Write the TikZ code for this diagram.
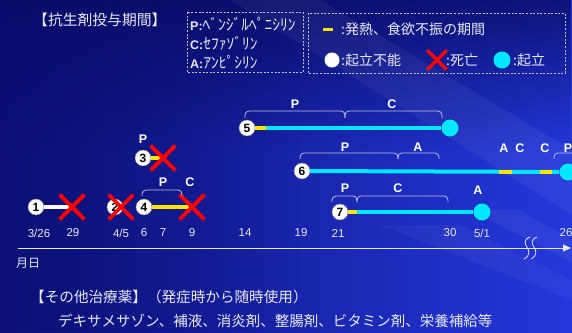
\documentclass[tikz,border=0pt]{standalone}
\usepackage{fontspec}
\newfontfamily\jpf{Noto Sans CJK JP}
\newfontfamily\arf{Liberation Sans}
\usetikzlibrary{arrows.meta,shapes.misc,fadings}
\definecolor{bgA}{RGB}{12,16,118}
\definecolor{bgB}{RGB}{36,56,220}
\definecolor{bgTop}{RGB}{6,8,90}
\definecolor{txt}{RGB}{232,232,242}
\definecolor{brk}{RGB}{190,192,220}
\definecolor{cy}{RGB}{0,232,255}
\definecolor{yl}{RGB}{248,232,0}
\definecolor{rx}{RGB}{255,0,0}
\tikzset{
  jp/.style={font=\jpf\fontsize{#1}{#1}\selectfont, text=txt, inner sep=0pt},
  jp/.default=14,
  pc/.style={circle, fill=white, draw=black!50, line width=0.4pt, minimum size=16pt, inner sep=0pt,
    font=\arf\bfseries\fontsize{12}{12}\selectfont, text=black},
  endc/.style={circle, fill=cy, minimum size=17pt, inner sep=0pt},
  xm/.style={cross out, draw=rx, line width=3.6pt, minimum size=21pt, inner sep=0pt},
  ln/.style={line width=4pt},
  brace/.style={draw=brk, line width=0.8pt, rounded corners=4pt},
  lab/.style={font=\arf\bfseries\fontsize{12.5}{12.5}\selectfont, text=white, inner sep=0pt},
  datel/.style={font=\arf\fontsize{11.5}{11.5}\selectfont, text=txt, inner sep=0pt},
  dbox/.style={draw=brk, line width=0.8pt, dash pattern=on 2pt off 1.6pt},
  wave/.style={draw=txt, line width=0.8pt},
}
\begin{document}
\begin{tikzpicture}[x=1pt,y=-1pt]
\useasboundingbox (0,0) rectangle (572,332);
\clip (0,0) rectangle (572,332);
% background
\shade[left color=bgA, right color=bgB] (0,0) rectangle (572,332);
\fill[bgTop, path fading=south, opacity=0.75] (0,0) rectangle (572,150);
\fill[bgA, path fading=east, opacity=0.5] (0,0) rectangle (300,332);
\fill[white, opacity=0.05] (230,0) -- (320,0) -- (572,150) -- (572,215) -- cycle;
\fill[white, opacity=0.04] (380,225) -- (460,225) -- (572,280) -- (572,300) -- cycle;
\fill[white, opacity=0.05] (470,210) -- (520,210) -- (572,240) -- (572,262) -- cycle;

% title and legends
\node[jp=14.8, anchor=west] (title) at (33,20) {【抗生剤投与期間】};
\draw[dbox] (187,12) rectangle (303,72);
\node[anchor=west, inner sep=0pt, text=txt] (lp) at (190,24) {{\arf\bfseries\fontsize{12.5}{12.5}\selectfont P:}{\jpf\fontsize{15.5}{15.5}\selectfont ﾍﾞﾝｼﾞﾙﾍﾟﾆｼﾘﾝ}};
\node[anchor=west, inner sep=0pt, text=txt] (lc) at (190,43) {{\arf\bfseries\fontsize{12.5}{12.5}\selectfont C:}{\jpf\fontsize{15.5}{15.5}\selectfont ｾﾌｧｿﾞﾘﾝ}};
\node[anchor=west, inner sep=0pt, text=txt] (la) at (190,62) {{\arf\bfseries\fontsize{12.5}{12.5}\selectfont A:}{\jpf\fontsize{15.5}{15.5}\selectfont ｱﾝﾋﾟｼﾘﾝ}};

\draw[dbox] (308,13) rectangle (565,73);
\coordinate (lyA) at (323,29);
\coordinate (lyB) at (333,29);
\draw[yl, line width=3pt] (lyA) -- (lyB);
\node[jp=14, anchor=west] (l1) at (341,29) {:発熱、食欲不振の期間};
\node[circle, fill=white, minimum size=15pt, inner sep=0pt] (lw) at (332,60) {};
\node[jp=14, anchor=west] (l2) at (341,60) {:起立不能};
\node[cross out, draw=rx, line width=3.4pt, minimum size=16pt, inner sep=0pt] (lx) at (437,60) {};
\node[jp=14, anchor=west] (l3) at (446,60) {:死亡};
\node[endc] (lcy) at (502,60) {};
\node[jp=14, anchor=west] (l4) at (513,60) {:起立};

% axis
\coordinate (axS) at (18,248);
\coordinate (axE) at (571,248);
\draw[txt, line width=0.9pt, -{Triangle[length=8pt,width=7pt]}] (axS) -- (axE);
\draw[wave] (530,237) .. controls (516,243) and (538,251) .. (524,259);
\draw[wave] (537,237) .. controls (523,243) and (545,251) .. (531,259);
\node[jp=12, anchor=west] (md) at (16,263) {月日};

% dates
\node[datel] (d1) at (39,233) {3/26};
\node[datel] (d2) at (73,233) {29};
\node[datel] (d3) at (121,233) {4/5};
\node[datel] (d4) at (144,233) {6};
\node[datel] (d5) at (163,233) {7};
\node[datel] (d6) at (192,233) {9};
\node[datel] (d7) at (245,233) {14};
\node[datel] (d8) at (301,233) {19};
\node[datel] (d9) at (338,233) {21};
\node[datel] (d10) at (450,233) {30};
\node[datel] (d11) at (482,233) {5/1};
\node[datel] (d12) at (566,233) {26};

% patient 1
\node[pc] (p1) at (36,207) {1};
\node[xm] (x1) at (72,207) {};
\draw[ln, white] (p1) -- (x1.center);
\node[xm] at (72,207) {};
% patient 2
\node[pc] (p2) at (115,207) {2};
\node[xm] (x2) at (121,207) {};
% patient 3
\node[pc] (p3) at (143,158) {3};
\node[xm] (x3) at (163,158) {};
\draw[ln, yl] (p3) -- (x3.center);
\node[xm] at (163,158) {};
\node[lab] (l3p) at (143,139) {P};
% patient 4
\node[pc] (p4) at (144,207) {4};
\node[xm] (x4) at (192,207) {};
\draw[ln, yl] (p4) -- (x4.center);
\node[xm] at (192,207) {};
\draw[brace] (142,196) -- (142,190) -- (182,190) -- (182,196);
\node[lab] (l4p) at (163,182) {P};
\node[lab] (l4c) at (190,182) {C};
% patient 5
\node[pc] (p5) at (247,128) {5};
\node[endc] (e5) at (450,128) {};
\coordinate (y5) at (266,128);
\draw[ln, yl] (p5) -- (y5);
\draw[ln, cy] (y5) -- (e5);
\draw[brace] (245,118) -- (245,111) -- (345,111) -- (345,118);
\draw[brace] (345,118) -- (345,111) -- (442,111) -- (442,118);
\node[lab] (l5p) at (295,104) {P};
\node[lab] (l5c) at (392,104) {C};
% patient 6
\node[pc] (p6) at (302,171) {6};
\node[endc] (e6) at (568,172) {};
\coordinate (y6a) at (499,171.5);
\coordinate (y6b) at (512,171.5);
\coordinate (y6c) at (540,171.5);
\coordinate (y6d) at (552,171.5);
\draw[ln, cy] (p6) -- (e6);
\draw[ln, yl] (y6a) -- (y6b);
\draw[ln, yl] (y6c) -- (y6d);
\draw[brace] (300,159) -- (300,153) -- (398,153) -- (398,159);
\draw[brace] (398,159) -- (398,153) -- (439,153) -- (439,159);
\draw[brace] (554,159) -- (554,153) -- (600,153);
\node[lab] (l6p) at (345,147) {P};
\node[lab] (l6a) at (418,147) {A};
\node[lab] (l6a2) at (504,148) {A};
\node[lab] (l6c) at (520,148) {C};
\node[lab] (l6c2) at (545,148) {C};
\node[lab] (l6p2) at (568,148) {P};
% patient 7
\node[pc] (p7) at (340,212) {7};
\node[endc] (e7) at (482,212) {};
\coordinate (y7) at (357,212);
\draw[ln, yl] (p7) -- (y7);
\draw[ln, cy] (y7) -- (e7);
\draw[brace] (332,202) -- (332,196) -- (357,196) -- (357,202);
\draw[brace] (357,202) -- (357,196) -- (448,196) -- (448,202);
\node[lab] (l7p) at (345,188) {P};
\node[lab] (l7c) at (398,188) {C};
\node[lab] (l7a) at (478,190) {A};

% bottom text
\node[jp=14.6, anchor=west] (o1) at (30,297) {【その他治療薬】（発症時から随時使用）};
\node[jp=14.5, anchor=west] (o2) at (58,321) {デキサメサゾン、補液、消炎剤、整腸剤、ビタミン剤、栄養補給等};
\end{tikzpicture}
\end{document}
